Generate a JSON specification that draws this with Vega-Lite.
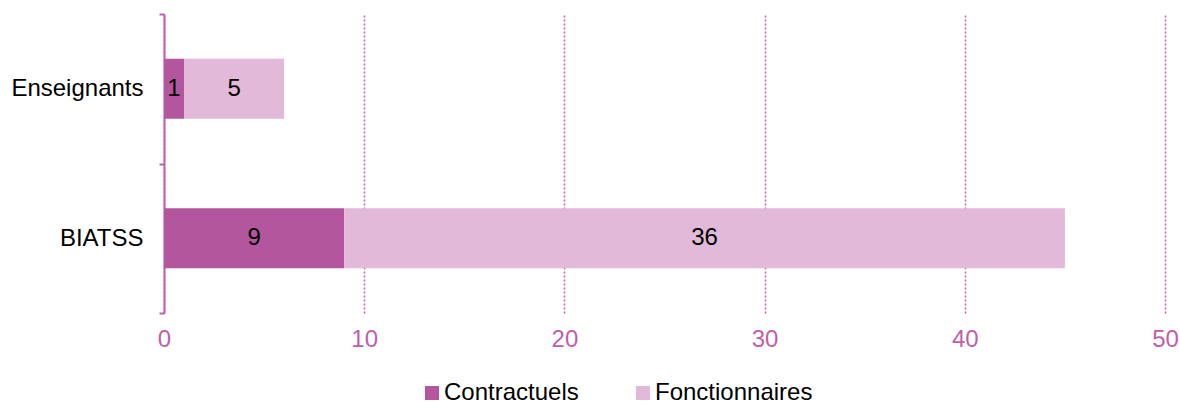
{
  "$schema": "https://vega.github.io/schema/vega-lite/v6.json",
  "width": 1001,
  "height": 299,
  "autosize": {"type": "none"},
  "padding": {"left": 164, "top": 14, "right": 14, "bottom": 90},
  "background": "white",
  "config": {"view": {"stroke": null}, "font": "Liberation Sans"},
  "data": {
    "values": [
      {"cat": "Enseignants", "type": "Contractuels", "n": 1, "o": 1},
      {"cat": "Enseignants", "type": "Fonctionnaires", "n": 5, "o": 2},
      {"cat": "BIATSS", "type": "Contractuels", "n": 9, "o": 1},
      {"cat": "BIATSS", "type": "Fonctionnaires", "n": 36, "o": 2}
    ]
  },
  "transform": [
    {"stack": "n", "groupby": ["cat"], "sort": [{"field": "o"}], "as": ["n0", "n1"]},
    {"calculate": "(datum.n0 + datum.n1) / 2", "as": "mid"}
  ],
  "encoding": {
    "y": {
      "field": "cat",
      "type": "nominal",
      "sort": ["Enseignants", "BIATSS"],
      "scale": {"paddingInner": 0, "paddingOuter": 0},
      "axis": {
        "title": null,
        "tickBand": "extent",
        "domainColor": "#BF5FAA",
        "domainWidth": 2,
        "tickColor": "#BF5FAA",
        "tickWidth": 2,
        "tickSize": 5,
        "labelFontSize": 24,
        "labelColor": "black",
        "labelPadding": 16
      }
    }
  },
  "layer": [
    {
      "mark": {"type": "bar", "height": {"band": 0.4}},
      "encoding": {
        "x": {
          "field": "n0",
          "type": "quantitative",
          "scale": {"domain": [0, 50], "nice": false},
          "axis": {
            "title": null,
            "values": [0, 10, 20, 30, 40, 50],
            "grid": true,
            "gridColor": "#BF5FAA",
            "gridDash": [2, 2],
            "gridWidth": 1.5,
            "domain": false,
            "ticks": false,
            "labelFlush": false,
            "labelColor": "#BF5FAA",
            "labelFontSize": 24,
            "labelPadding": 14
          }
        },
        "x2": {"field": "n1"},
        "color": {
          "field": "type",
          "type": "nominal",
          "scale": {"domain": ["Contractuels", "Fonctionnaires"], "range": ["#B3569E", "#E2B9D8"]},
          "legend": {
            "title": null,
            "orient": "none",
            "direction": "horizontal",
            "legendX": 256,
            "legendY": 367,
            "padding": 0,
            "symbolType": "square",
            "symbolSize": 196,
            "symbolStrokeWidth": 0,
            "labelFontSize": 24,
            "labelColor": "black",
            "labelOffset": 0,
            "columnPadding": 52
          }
        }
      }
    },
    {
      "mark": {"type": "text", "fontSize": 24, "color": "black"},
      "encoding": {
        "x": {"field": "mid", "type": "quantitative"},
        "text": {"field": "n", "type": "quantitative"}
      }
    }
  ]
}
